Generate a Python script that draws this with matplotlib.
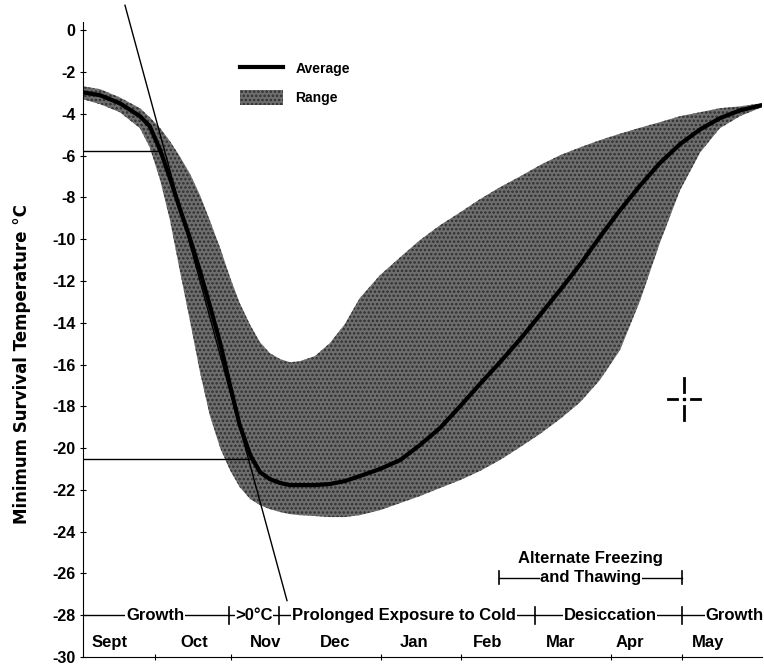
import numpy as np
import matplotlib
matplotlib.use("Agg")
import matplotlib.pyplot as plt

plt.rcParams['font.family'] = ['Liberation Sans', 'DejaVu Sans']
plt.rcParams['font.weight'] = 'bold'
plt.rcParams['axes.unicode_minus'] = False
plt.rcParams['hatch.linewidth'] = 1.2

# x in months from the start of September
x = [0.00, 0.23, 0.49, 0.76, 0.89, 1.03, 1.16, 1.29, 1.43, 1.56, 1.69, 1.83, 1.96, 2.09,
     2.23, 2.36, 2.49, 2.63, 2.76, 2.89, 3.09, 3.29, 3.49, 3.69, 3.96, 4.23, 4.49, 4.76,
     5.03, 5.29, 5.56, 5.83, 6.09, 6.36, 6.63, 6.89, 7.16, 7.43, 7.69, 7.96, 8.23, 8.49,
     8.76, 9.05]
average = [-2.97, -3.11, -3.49, -4.11, -4.59, -5.74, -7.08, -8.52, -10.00, -11.53, -13.16,
           -14.98, -16.99, -18.90, -20.33, -21.15, -21.48, -21.67, -21.77, -21.77, -21.77,
           -21.72, -21.58, -21.34, -21.00, -20.57, -19.86, -19.04, -17.99, -16.94, -15.89,
           -14.78, -13.64, -12.44, -11.20, -9.90, -8.61, -7.42, -6.36, -5.45, -4.74, -4.21,
           -3.83, -3.59]
range_high = [-2.68, -2.82, -3.21, -3.73, -4.16, -4.69, -5.31, -6.03, -6.89, -7.89, -9.09,
              -10.43, -11.82, -13.06, -14.11, -14.93, -15.45, -15.74, -15.89, -15.84, -15.60,
              -14.98, -14.07, -12.82, -11.72, -10.86, -10.05, -9.33, -8.71, -8.09, -7.51,
              -6.99, -6.46, -5.98, -5.60, -5.26, -4.95, -4.66, -4.40, -4.11, -3.92, -3.73,
              -3.64, -3.49]
range_low = [-3.30, -3.54, -3.92, -4.69, -5.60, -7.18, -9.09, -11.48, -13.97, -16.36, -18.42,
             -20.00, -21.05, -21.87, -22.44, -22.73, -22.92, -23.06, -23.16, -23.21, -23.25,
             -23.30, -23.30, -23.21, -22.97, -22.63, -22.30, -21.91, -21.53, -21.10, -20.57,
             -19.95, -19.33, -18.61, -17.80, -16.75, -15.31, -12.92, -10.19, -7.66, -5.84,
             -4.69, -4.11, -3.68]

months = ['Sept', 'Oct', 'Nov', 'Dec', 'Jan', 'Feb', 'Mar', 'Apr', 'May']
month_x = [0.36, 1.49, 2.44, 3.36, 4.41, 5.39, 6.37, 7.29, 8.33]
bottom_ticks = [0.96, 1.97, 3.97, 5.04, 7.04, 7.99]

# phases along the -28 line: (label, start, end, label centre)
phases = [('Growth', 0.0, 1.95, 0.96),
          ('>0°C', 1.95, 2.61, 2.28),
          ('Prolonged Exposure to Cold', 2.61, 6.03, 4.28),
          ('Desiccation', 6.03, 7.99, 7.03),
          ('Growth', 7.99, 9.05, 8.69)]
phase_ticks = [1.95, 2.61, 6.03, 7.99]
thaw_start, thaw_end = 5.55, 7.99

# hardening construction lines
tangent_x = [0.56, 2.72]
tangent_y = [1.2, -27.3]
onset_level, onset_x = -5.8, 1.03
hardy_level, hardy_x = -20.5, 2.23
cross_x, cross_y = 8.01, -17.66

fig = plt.figure(figsize=(7.64, 6.65), dpi=100)
ax = fig.add_axes([0.1086, 0.012, 0.8885, 0.955])

band = ax.fill_between(x, range_low, range_high, facecolor='#6e6e6e', edgecolor='#2e2e2e',
                       hatch='....', linewidth=0, label='Range', zorder=2)
line, = ax.plot(x, average, color='black', lw=3, label='Average', zorder=3)

ax.plot(tangent_x, tangent_y, color='black', lw=1, clip_on=False, zorder=4)
ax.plot([0, onset_x], [onset_level, onset_level], color='black', lw=1, zorder=4)
ax.plot([0, hardy_x], [hardy_level, hardy_level], color='black', lw=1, zorder=4)

# crosshair
ax.plot([cross_x, cross_x], [cross_y + 0.33, cross_y + 1.0], color='black', lw=2)
ax.plot([cross_x, cross_x], [cross_y - 0.33, cross_y - 1.0], color='black', lw=2)
ax.plot([cross_x - 0.09, cross_x - 0.21], [cross_y, cross_y], color='black', lw=2)
ax.plot([cross_x + 0.09, cross_x + 0.21], [cross_y, cross_y], color='black', lw=2)
ax.plot([cross_x], [cross_y], 's', color='black', ms=1.5)

# phase row
for label, x0, x1, xc in phases:
    ax.plot([x0, x1], [-28, -28], color='black', lw=1)
    ax.text(xc, -28, label, ha='center', va='center', fontsize=12,
            bbox=dict(facecolor='white', edgecolor='none', pad=0.5))
for t in phase_ticks:
    ax.plot([t, t], [-27.6, -28.4], color='black', lw=1.2)

ax.plot([thaw_start, thaw_end], [-26.2, -26.2], color='black', lw=1)
ax.plot([thaw_start, thaw_start], [-25.9, -26.5], color='black', lw=1.2)
ax.plot([thaw_end, thaw_end], [-25.9, -26.5], color='black', lw=1.2)
ax.text((thaw_start + thaw_end) / 2, -25.3, 'Alternate Freezing', ha='center', va='center',
        fontsize=12)
ax.text((thaw_start + thaw_end) / 2, -26.2, 'and Thawing', ha='center', va='center',
        fontsize=12, bbox=dict(facecolor='white', edgecolor='none', pad=0.5))

for m, mx in zip(months, month_x):
    ax.text(mx, -29.3, m, ha='center', va='center', fontsize=12)

ax.set_xlim(0, 9.05)
ax.set_ylim(-30, 0.4)
ax.set_yticks(np.arange(0, -31, -2))
ax.set_xticks(bottom_ticks)
ax.set_xticklabels([])
ax.tick_params(axis='y', direction='inout', length=5, labelsize=11.5, pad=3)
ax.tick_params(axis='x', direction='inout', length=5)
ax.spines['top'].set_visible(False)
ax.spines['right'].set_visible(False)
for lbl in ax.get_yticklabels():
    lbl.set_fontweight('bold')

fig.text(0.029, 1 - 364 / 665, 'Minimum Survival Temperature °C', rotation=90,
         ha='center', va='center', fontsize=12, family='DejaVu Sans', weight='bold')

ax.legend([line, band], ['Average', 'Range'], loc='upper left',
          bbox_to_anchor=(0.231, 0.9386), frameon=False, fontsize=10,
          handlelength=3.1, handleheight=1.3, handletextpad=0.9, labelspacing=1.0,
          borderpad=0, borderaxespad=0)

fig.savefig('out.png', dpi=100)
